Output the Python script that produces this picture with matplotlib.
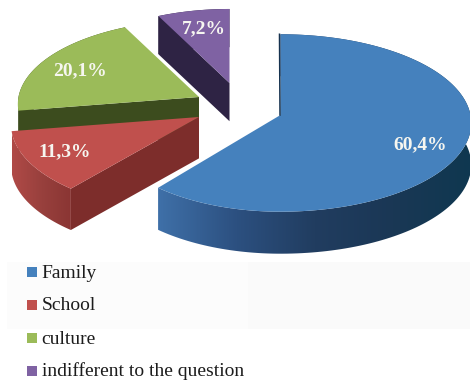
import numpy as np
import matplotlib
matplotlib.use("Agg")
import matplotlib.pyplot as plt
from matplotlib.colors import LinearSegmentedColormap
from matplotlib.patches import Polygon, Rectangle

# Data
categories = ["Family", "School", "culture", "indifferent to the question"]
shares = [60.4, 11.3, 20.1, 7.2]

# Slice styling and placement (canvas pixels)
top_colors = ["#4581bd", "#c0504d", "#9bbb59", "#7f62a3"]
start_face_colors = ["#16324f", "#7d2d2b", "#3c4c1e", "#2e2344"]
side_stops = [
    ["#3f70a8", "#2c5080", "#213d60", "#1a3755", "#0f3850"],
    ["#b04a47", "#98403d", "#8a3533"],
    ["#3c4c1e", "#3c4c1e"],
    ["#2e2344", "#2e2344"],
]
apex_x = [280.5, 199, 199, 229.5]
apex_y = [115, 117, 97, 83]
scale = [1.0, 0.985, 0.95, 0.91]
left_squeeze = [0.94, 1.0, 1.0, 1.0]
draw_order = [3, 2, 0, 1]

RX, RY = 190, 88
TILT = 0.09
DEPTH = 42


def project(theta, r, cx, cy, squeeze=1.0):
    # theta runs clockwise from 12 o'clock, nearer points are drawn larger
    u = r * np.sin(theta)
    v = r * np.cos(theta)
    s = 1 / (1 + TILT * v)
    return cx + RX * u * s * np.where(u < 0, squeeze, 1.0), cy - RY * v * s


fig = plt.figure(figsize=(4.7, 3.81), dpi=100)
ax = fig.add_axes([0, 0, 1, 1])
ax.axis("off")

# Faint panels behind the legend area
ax.add_patch(Rectangle((7, 262), 241, 67, fc="#fcfcfc", ec="none", zorder=0))
ax.add_patch(Rectangle((248, 262), 222, 67, fc="#fafafa", ec="none", zorder=0))

angles = np.cumsum([0] + shares) / sum(shares) * 2 * np.pi

z = 1
for i in draw_order:
    t1, t2 = angles[i], angles[i + 1]
    cx, cy, k = apex_x[i], apex_y[i], scale[i]
    depth = DEPTH * k
    theta = np.linspace(t1, t2, 160)
    x, y = project(theta, k, cx, cy, left_squeeze[i])

    # Outer wall with a left-to-right shade clipped to its outline
    cmap = LinearSegmentedColormap.from_list("side", side_stops[i])
    wall = Polygon(np.column_stack([np.r_[x, x[::-1]], np.r_[y, y[::-1] + depth]]),
                   fc="none", ec="none", zorder=z)
    ax.add_patch(wall)
    shade = ax.imshow(np.linspace(0, 1, 256).reshape(1, -1), cmap=cmap, aspect="auto",
                      extent=(x.min(), x.max(), y.max() + depth, y.min()),
                      zorder=z)
    shade.set_clip_path(wall)
    z += 1

    # Cut face along the first radius
    xs, ys = project(t1, k, cx, cy, left_squeeze[i])
    face = [(cx, cy), (xs, ys), (xs, ys + depth), (cx, cy + depth)]
    ax.add_patch(Polygon(face, fc=start_face_colors[i], ec="none", zorder=z))
    z += 1

    # Top of the slice
    top = np.column_stack([np.r_[cx, x], np.r_[cy, y]])
    ax.add_patch(Polygon(top, fc=top_colors[i], ec="none", zorder=z))
    z += 1

# Thin dark edge where the big slice starts
xs, ys = project(angles[0], 1, apex_x[0], apex_y[0])
ax.plot([xs - 1, apex_x[0] - 0.5], [ys, apex_y[0]], color="#16324f", lw=1.1,
        zorder=z)
z += 1

# Value labels
label_x = [420, 65, 80, 204]
label_y = [145, 152, 71, 29]
for i, share in enumerate(shares):
    ax.text(label_x[i], label_y[i], f"{share:.1f}%".replace(".", ","),
            family="Liberation Serif", weight="bold", fontsize=14,
            color="#f6f6f0", ha="center", va="center", zorder=z)

# Legend
legend_y = [272, 305, 338, 371]
for i, name in enumerate(categories):
    ax.add_patch(Rectangle((27, legend_y[i] - 5), 10, 10, fc=top_colors[i],
                           ec="none", zorder=z))
    ax.text(41.5, legend_y[i] + 5.5, name, family="Liberation Serif", fontsize=14,
            color="#1c1c1c", ha="left", va="baseline", zorder=z)

ax.set_xlim(0, 470)
ax.set_ylim(381, 0)

fig.savefig("out.png", dpi=100)
